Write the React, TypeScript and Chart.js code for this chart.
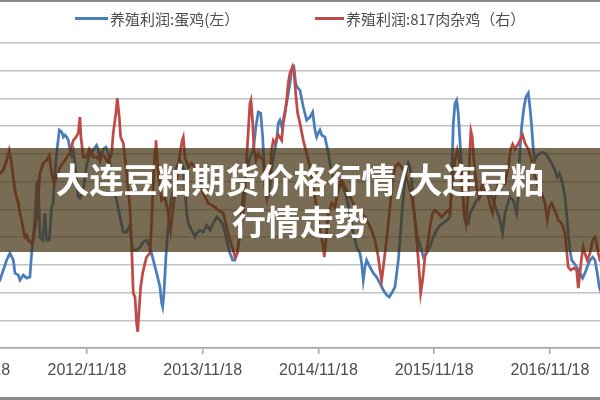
import React, { useEffect, useRef } from "react";
import { Chart, registerables } from "chart.js";

Chart.register(...registerables);

// x axis: decimal years (tick dates are the 18th of November each year)
const tickLabels = ["2011/11/18", "2012/11/18", "2013/11/18", "2014/11/18", "2015/11/18", "2016/11/18"];
const tickValues = [2011.88, 2012.88, 2013.88, 2014.88, 2015.88, 2016.88];
const xRange = [2011.783, 2017.658];
const leftAxisRange = [-30, 80];
const rightAxisRange = [-3, 8];

const legendEgg = "养殖利润:蛋鸡(左）";
const legendBroiler = "养殖利润:817肉杂鸡（右）";
const bannerLine1 = "大连豆粕期货价格行情/大连豆粕";
const bannerLine2 = "行情走势";

// 养殖利润:蛋鸡 (left axis)
const eggDates = [
  2012.102, 2012.128, 2012.186, 2012.215, 2012.244, 2012.258, 2012.287, 2012.301, 2012.330, 2012.359,
  2012.387, 2012.402, 2012.416, 2012.431, 2012.445, 2012.459, 2012.474, 2012.497, 2012.517, 2012.531,
  2012.554, 2012.575, 2012.588, 2012.603, 2012.621, 2012.641, 2012.662, 2012.676, 2012.690, 2012.705,
  2012.719, 2012.733, 2012.748, 2012.762, 2012.785, 2012.805, 2012.819, 2012.848, 2012.877, 2012.906,
  2012.934, 2012.963, 2012.977, 2012.992, 2013.007, 2013.021, 2013.044, 2013.064, 2013.079, 2013.107,
  2013.136, 2013.165, 2013.194, 2013.223, 2013.251, 2013.266, 2013.280, 2013.309, 2013.338, 2013.366,
  2013.395, 2013.424, 2013.453, 2013.482, 2013.511, 2013.525, 2013.534, 2013.545, 2013.562, 2013.574,
  2013.591, 2013.612, 2013.626, 2013.640, 2013.655, 2013.683, 2013.712, 2013.727, 2013.741, 2013.755,
  2013.784, 2013.813, 2013.828, 2013.856, 2013.885, 2013.914, 2013.943, 2013.971, 2014.001, 2014.029,
  2014.058, 2014.087, 2014.115, 2014.138, 2014.158, 2014.178, 2014.196, 2014.217, 2014.245, 2014.260,
  2014.288, 2014.317, 2014.340, 2014.360, 2014.381, 2014.398, 2014.418, 2014.433, 2014.447, 2014.461,
  2014.476, 2014.504, 2014.519, 2014.533, 2014.547, 2014.562, 2014.576, 2014.605, 2014.634, 2014.649,
  2014.668, 2014.683, 2014.697, 2014.720, 2014.749, 2014.778, 2014.807, 2014.830, 2014.850, 2014.864,
  2014.878, 2014.893, 2014.908, 2014.936, 2014.951, 2014.965, 2014.994, 2015.023, 2015.037, 2015.066,
  2015.094, 2015.123, 2015.152, 2015.181, 2015.210, 2015.239, 2015.253, 2015.267, 2015.282, 2015.296,
  2015.325, 2015.354, 2015.383, 2015.411, 2015.440, 2015.469, 2015.492, 2015.513, 2015.541, 2015.556,
  2015.570, 2015.584, 2015.599, 2015.613, 2015.627, 2015.642, 2015.656, 2015.671, 2015.685, 2015.700,
  2015.714, 2015.729, 2015.743, 2015.763, 2015.786, 2015.815, 2015.843, 2015.872, 2015.901, 2015.930,
  2015.958, 2015.988, 2016.016, 2016.031, 2016.045, 2016.060, 2016.074, 2016.088, 2016.102, 2016.117,
  2016.131, 2016.146, 2016.174, 2016.189, 2016.217, 2016.246, 2016.275, 2016.304, 2016.333, 2016.362,
  2016.391, 2016.420, 2016.448, 2016.471, 2016.491, 2016.506, 2016.535, 2016.563, 2016.592, 2016.606,
  2016.621, 2016.636, 2016.656, 2016.673, 2016.693, 2016.707, 2016.722, 2016.736, 2016.750, 2016.770,
  2016.794, 2016.817, 2016.837, 2016.865, 2016.895, 2016.923, 2016.943, 2016.961, 2016.981, 2016.995,
  2017.010, 2017.024, 2017.038, 2017.053, 2017.068, 2017.088, 2017.111, 2017.139, 2017.162, 2017.182,
  2017.202, 2017.226, 2017.249, 2017.269, 2017.289, 2017.306, 2017.329,
];
const eggProfit = [
  -7.3, -5.5, 1.7, 4.2, 1.7, -3.0, -3.7, -5.5, -3.7, -4.8,
  -4.4, 4.2, 10.0, 17.2, 29.4, 30.5, 10.0, 8.9, 18.6, 8.9,
  8.9, 20.8, 22.2, 33.0, 41.3, 48.6, 47.9, 46.1, 46.8, 46.1,
  44.9, 41.3, 39.5, 41.3, 33.0, 24.4, 24.0, 26.9, 35.9, 40.2,
  41.3, 43.1, 41.7, 37.7, 40.2, 41.7, 42.4, 40.2, 36.6, 28.0,
  23.3, 17.2, 11.8, 11.8, 14.3, 7.8, 5.3, 5.3, 6.4, 8.2,
  8.9, 6.4, 1.7, -3.0, -8.0, -13.8, -15.2, -10.2, 2.8, 10.0,
  18.6, 24.4, 26.9, 31.6, 35.2, 37.7, 35.2, 28.0, 18.6, 15.0,
  12.5, 10.0, 11.4, 12.5, 11.8, 14.3, 12.5, 15.0, 17.2, 16.1,
  14.3, 8.9, 4.2, 1.7, 1.7, 4.2, 10.0, 20.8, 30.5, 33.0,
  38.8, 41.3, 50.0, 55.1, 54.7, 46.1, 29.4, 24.4, 24.4, 28.0,
  35.2, 41.7, 44.9, 51.1, 52.2, 50.0, 52.2, 58.3, 65.5, 70.2,
  71.3, 65.5, 64.0, 63.0, 56.9, 52.2, 53.3, 55.1, 48.6, 46.1,
  47.5, 48.6, 46.8, 46.1, 43.1, 40.2, 33.0, 29.4, 25.8, 29.4,
  28.0, 24.4, 18.6, 11.4, 6.4, 4.2, 0.6, -5.5, -0.8, 1.7,
  -0.8, -3.0, -4.4, -6.6, -9.1, -10.9, -11.6, -10.2, -8.0, -3.0,
  1.7, 8.9, 17.2, 24.4, 30.5, 34.1, 36.6, 35.2, 30.5, 22.2,
  16.1, 11.4, 8.9, 6.4, 2.8, 4.2, 6.4, 10.0, 12.5, 14.3,
  15.0, 16.1, 17.2, 30.5, 51.1, 58.3, 59.4, 54.7, 44.9, 35.2,
  24.4, 16.1, 15.0, 18.6, 20.8, 23.3, 24.4, 26.9, 28.0, 25.8,
  23.3, 19.7, 16.1, 11.4, 18.6, 20.8, 24.4, 23.3, 18.6, 24.4,
  41.3, 50.0, 56.9, 60.5, 61.9, 56.9, 50.0, 41.7, 37.7, 39.5,
  40.2, 40.6, 40.2, 38.8, 36.6, 34.1, 31.6, 33.0, 30.5, 28.0,
  24.4, 18.6, 11.4, 5.3, 1.7, 0.6, -0.8, -3.0, -4.8, -3.0,
  -0.8, 1.7, 2.8, 1.7, -3.0, -8.0, -10.9,
];

// 养殖利润:817肉杂鸡 (right axis)
const broilerDates = [
  2012.102, 2012.128, 2012.157, 2012.186, 2012.208, 2012.229, 2012.243, 2012.258, 2012.272, 2012.287,
  2012.301, 2012.316, 2012.330, 2012.344, 2012.359, 2012.373, 2012.402, 2012.416, 2012.445, 2012.474,
  2012.502, 2012.531, 2012.554, 2012.575, 2012.595, 2012.618, 2012.647, 2012.690, 2012.705, 2012.733,
  2012.748, 2012.762, 2012.785, 2012.805, 2012.819, 2012.828, 2012.848, 2012.877, 2012.900, 2012.921,
  2012.934, 2012.963, 2012.992, 2013.007, 2013.036, 2013.064, 2013.093, 2013.107, 2013.130, 2013.142,
  2013.159, 2013.171, 2013.194, 2013.223, 2013.251, 2013.266, 2013.280, 2013.295, 2013.309, 2013.318,
  2013.332, 2013.344, 2013.361, 2013.381, 2013.395, 2013.424, 2013.439, 2013.453, 2013.468, 2013.476,
  2013.496, 2013.525, 2013.554, 2013.582, 2013.603, 2013.626, 2013.655, 2013.683, 2013.703, 2013.712,
  2013.727, 2013.755, 2013.784, 2013.813, 2013.856, 2013.885, 2013.928, 2013.986, 2014.014, 2014.058,
  2014.087, 2014.115, 2014.144, 2014.158, 2014.178, 2014.202, 2014.230, 2014.245, 2014.260, 2014.274,
  2014.288, 2014.297, 2014.312, 2014.323, 2014.340, 2014.360, 2014.375, 2014.403, 2014.418, 2014.433,
  2014.447, 2014.461, 2014.476, 2014.490, 2014.504, 2014.533, 2014.547, 2014.562, 2014.576, 2014.591,
  2014.605, 2014.619, 2014.634, 2014.657, 2014.668, 2014.683, 2014.700, 2014.720, 2014.749, 2014.778,
  2014.807, 2014.835, 2014.864, 2014.878, 2014.899, 2014.922, 2014.930, 2014.945, 2014.965, 2014.994,
  2015.023, 2015.051, 2015.081, 2015.109, 2015.138, 2015.167, 2015.196, 2015.224, 2015.253, 2015.282,
  2015.311, 2015.339, 2015.368, 2015.397, 2015.411, 2015.426, 2015.440, 2015.455, 2015.475, 2015.498,
  2015.521, 2015.541, 2015.570, 2015.599, 2015.627, 2015.656, 2015.686, 2015.714, 2015.734, 2015.751,
  2015.763, 2015.780, 2015.800, 2015.820, 2015.843, 2015.866, 2015.886, 2015.915, 2015.944, 2015.973,
  2016.001, 2016.016, 2016.039, 2016.059, 2016.079, 2016.096, 2016.117, 2016.137, 2016.154, 2016.174,
  2016.189, 2016.197, 2016.209, 2016.223, 2016.246, 2016.269, 2016.290, 2016.304, 2016.327, 2016.347,
  2016.368, 2016.385, 2016.405, 2016.434, 2016.463, 2016.491, 2016.520, 2016.541, 2016.558, 2016.578,
  2016.598, 2016.621, 2016.644, 2016.664, 2016.693, 2016.722, 2016.750, 2016.779, 2016.809, 2016.837,
  2016.857, 2016.874, 2016.895, 2016.909, 2016.932, 2016.952, 2016.981, 2017.010, 2017.024, 2017.038,
  2017.059, 2017.088, 2017.111, 2017.125, 2017.139, 2017.154, 2017.168, 2017.182, 2017.202, 2017.226,
  2017.249, 2017.269, 2017.283, 2017.297, 2017.312, 2017.338,
];
const broilerProfit = [
  3.12, 3.30, 3.41, 3.77, 4.13, 3.66, 3.16, 2.69, 2.44, 2.22,
  1.86, 1.61, 1.25, 1.00, 1.07, 0.89, 0.78, 0.89, 1.72, 3.30,
  3.66, 3.77, 3.95, 3.30, 2.94, 3.16, 3.52, 3.77, 3.88, 4.02,
  4.31, 4.49, 4.60, 4.75, 5.33, 4.60, 3.88, 3.88, 4.17, 4.02,
  3.88, 3.88, 3.77, 4.02, 3.88, 3.66, 4.02, 4.75, 5.47, 6.01,
  5.33, 4.60, 4.39, 3.30, 2.08, 0.64, -1.02, -1.16, -2.10, -2.42,
  -1.52, -0.80, -0.30, 0.06, 0.28, 0.42, 1.61, 2.94, 4.17, 4.49,
  3.30, 2.33, 2.44, 1.86, 1.25, 2.08, 3.05, 4.02, 4.49, 4.60,
  3.88, 3.52, 3.66, 3.52, 2.94, 2.58, 2.22, 2.08, 1.97, 1.86,
  1.36, 0.89, 0.53, 0.28, 0.42, 1.14, 1.86, 2.69, 3.88, 4.86,
  5.83, 5.94, 5.11, 4.17, 3.77, 4.02, 3.88, 3.77, 2.80, 2.44,
  2.94, 3.16, 4.17, 4.49, 4.39, 4.68, 4.60, 4.49, 5.11, 5.47,
  5.94, 6.55, 6.91, 7.16, 7.02, 6.19, 5.47, 5.11, 4.49, 4.02,
  3.52, 2.80, 2.08, 1.61, 1.14, 0.64, 0.28, 0.89, 1.86, 2.22,
  2.08, 2.69, 3.05, 2.80, 2.58, 2.33, 2.08, 1.97, 1.86, 1.72,
  1.50, 1.25, 0.89, 0.28, -0.19, -0.55, -0.08, 0.42, 1.14, 2.08,
  3.05, 3.52, 3.66, 3.52, 3.30, 2.94, 2.44, 1.61, 0.64, -0.30,
  -1.02, -0.55, 0.28, 0.64, 1.36, 1.86, 1.97, 1.86, 1.72, 1.86,
  1.97, 1.86, 3.05, 3.77, 4.13, 3.77, 3.05, 1.86, 1.50, 2.69,
  4.17, 4.82, 4.60, 3.77, 2.80, 2.44, 2.80, 3.05, 2.69, 2.44,
  2.08, 1.86, 2.44, 2.94, 3.05, 2.94, 3.52, 4.17, 4.35, 4.17,
  4.31, 4.49, 4.68, 4.39, 4.17, 3.77, 3.16, 2.80, 2.58, 2.22,
  1.61, 2.08, 2.22, 2.08, 1.86, 1.61, 1.50, 1.14, 0.53, -0.08,
  -0.19, -0.12, -0.19, -0.84, -0.30, 0.28, 0.64, 0.42, 0.17, 0.42,
  0.89, 1.00, 0.78, 0.42, 0.17, -0.01,
];

const EGG_COLOR = "#4A7EBB";
const BROILER_COLOR = "#BE4B48";
const TEXT_COLOR = "#4D4D4D";
const CJK = '"Noto Sans CJK SC", "Noto Sans", sans-serif';

function zip(xs: number[], ys: number[]) {
  const n = Math.min(xs.length, ys.length);
  const out: { x: number; y: number }[] = [];
  for (let i = 0; i < n; i++) out.push({ x: xs[i], y: ys[i] });
  return out;
}

export default function App() {
  const canvasRef = useRef<HTMLCanvasElement | null>(null);

  useEffect(() => {
    document.body.style.margin = "0";
    const canvas = canvasRef.current;
    if (!canvas) return;
    const chart = new Chart(canvas, {
      type: "line",
      data: {
        datasets: [
          {
            label: legendBroiler,
            data: zip(broilerDates, broilerProfit),
            yAxisID: "y1",
            borderColor: BROILER_COLOR,
            backgroundColor: BROILER_COLOR,
            borderWidth: 2.75,
            pointRadius: 0,
            tension: 0,
            fill: false,
            order: 0,
          },
          {
            label: legendEgg,
            data: zip(eggDates, eggProfit),
            yAxisID: "y",
            borderColor: EGG_COLOR,
            backgroundColor: EGG_COLOR,
            borderWidth: 2.75,
            pointRadius: 0,
            tension: 0,
            fill: false,
            order: 1,
          },
        ],
      },
      options: {
        responsive: false,
        animation: false,
        devicePixelRatio: 1,
        layout: { padding: { left: 40, right: 40, top: 43, bottom: 0 } },
        plugins: { legend: { display: false }, tooltip: { enabled: false } },
        scales: {
          x: {
            type: "linear",
            min: xRange[0],
            max: xRange[1],
            afterBuildTicks: (scale: any) => {
              scale.ticks = tickValues.map((v) => ({ value: v }));
            },
            afterFit: (scale: any) => {
              scale.height = 52;
            },
            ticks: {
              autoSkip: false,
              maxRotation: 0,
              minRotation: 0,
              padding: 7,
              color: TEXT_COLOR,
              font: { family: '"Liberation Sans Narrow", "Liberation Sans", sans-serif', size: 16 },
              callback: (_v: any, i: number) => tickLabels[i] ?? "",
            },
            grid: { drawOnChartArea: false, drawTicks: true, tickLength: 6, color: "#A6A6A6", lineWidth: 1.5 },
            border: { display: true, color: "#A6A6A6", width: 1.5 },
          },
          y: {
            position: "left",
            min: leftAxisRange[0],
            max: leftAxisRange[1],
            ticks: { stepSize: 10, display: false },
            grid: { color: "#C2C2C2", lineWidth: 1.5, drawTicks: false },
            border: { display: false },
            afterFit: (scale: any) => {
              scale.width = 0;
            },
          },
          y1: {
            position: "right",
            min: rightAxisRange[0],
            max: rightAxisRange[1],
            display: false,
          },
        },
      },
    } as any);
    return () => chart.destroy();
  }, []);

  return (
    <div
      style={{
        position: "fixed",
        left: 0,
        top: 0,
        width: 600,
        height: 400,
        overflow: "hidden",
        background: "#ffffff",
      }}
    >
      <canvas
        ref={canvasRef}
        width={760}
        height={400}
        style={{ position: "absolute", left: -80, top: 0, width: 760, height: 400 }}
      />
      {/* legend */}
      <div style={{ position: "absolute", left: 75, top: 16.5, width: 33, height: 3, background: EGG_COLOR }} />
      <span
        style={{
          position: "absolute",
          left: 110,
          top: 18,
          transform: "translateY(-50%)",
          fontFamily: CJK,
          fontSize: 15,
          lineHeight: 1,
          color: TEXT_COLOR,
          whiteSpace: "nowrap",
        }}
      >
        {legendEgg}
      </span>
      <div style={{ position: "absolute", left: 315, top: 16.5, width: 29, height: 3, background: BROILER_COLOR }} />
      <span
        style={{
          position: "absolute",
          left: 346,
          top: 18,
          transform: "translateY(-50%)",
          fontFamily: CJK,
          fontSize: 15,
          lineHeight: 1,
          color: TEXT_COLOR,
          whiteSpace: "nowrap",
        }}
      >
        {legendBroiler}
      </span>
      {/* banner overlay */}
      <div
        style={{
          position: "absolute",
          left: 0,
          top: 148,
          width: 600,
          height: 104,
          background: "rgba(68,51,18,0.72)",
          display: "flex",
          alignItems: "center",
          justifyContent: "center",
          textAlign: "center",
          color: "#ffffff",
          fontFamily: CJK,
          fontWeight: 700,
          fontSize: 34,
          lineHeight: "42px",
        }}
      >
        <div>
          {bannerLine1}
          <br />
          {bannerLine2}
        </div>
      </div>
      {/* screenshot frame lines */}
      <div style={{ position: "absolute", left: 0, top: 0, width: 600, height: 2, background: "#8C8C8C" }} />
      <div style={{ position: "absolute", left: 0, top: 397, width: 600, height: 3, background: "#8A8A8A" }} />
    </div>
  );
}
